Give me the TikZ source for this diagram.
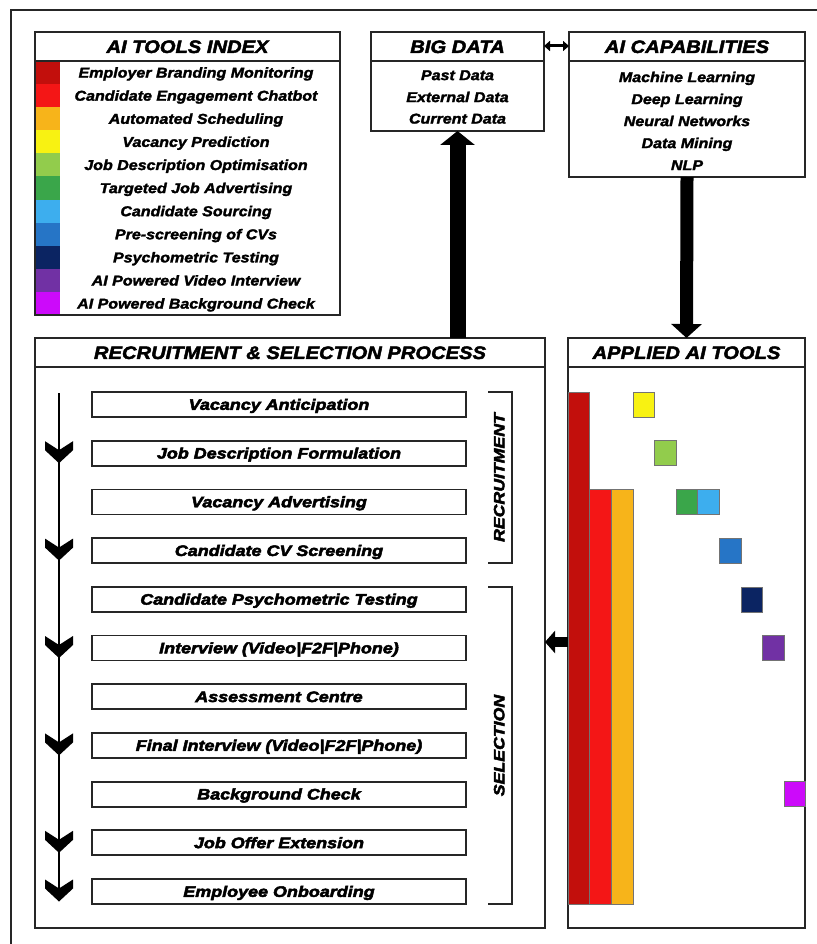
\documentclass[tikz,border=0pt]{standalone}
\usepackage{fontspec}
\setmainfont{Liberation Sans}
\newfontfamily\lab[FakeStretch=1.12,FakeBold=2]{Liberation Sans}
\newfontfamily\labh[FakeStretch=1.12,FakeBold=2.5]{Liberation Sans}
\newfontfamily\labw[FakeStretch=1.18,FakeBold=3.2]{Liberation Sans}
\usetikzlibrary{arrows.meta}
\definecolor{cA}{HTML}{C20F0C}
\definecolor{cB}{HTML}{F41616}
\definecolor{cC}{HTML}{F7B41A}
\definecolor{cD}{HTML}{F8F212}
\definecolor{cE}{HTML}{92CC4C}
\definecolor{cF}{HTML}{3AA64A}
\definecolor{cG}{HTML}{3DAEEE}
\definecolor{cH}{HTML}{2675C6}
\definecolor{cI}{HTML}{0B2462}
\definecolor{cJ}{HTML}{7131A4}
\definecolor{cK}{HTML}{CC0AFA}
\definecolor{edge}{HTML}{262626}
\begin{document}
\begin{tikzpicture}[x=1pt,y=-1pt,
  frame/.style={draw=edge,line width=1.8pt,inner sep=0pt,outer sep=0pt,anchor=north west},
  hdr/.style={frame,text height=12.9pt,text depth=0pt,font=\labh\bfseries\itshape\fontsize{18}{20}\selectfont},
  item/.style={inner sep=0pt,text height=10.2pt,text depth=0pt,font=\lab\bfseries\itshape\fontsize{14.3}{16}\selectfont},
  stepbox/.style={draw=edge,line width=1.8pt,inner sep=0pt,minimum width=374pt,minimum height=25pt,text height=10.7pt,text depth=0pt,font=\labw\bfseries\itshape\fontsize{15.2}{17}\selectfont},
  vlab/.style={rotate=90,inner sep=0pt,text height=10.7pt,text depth=0pt,font=\labw\bfseries\itshape\fontsize{15}{17}\selectfont},
  brk/.style={draw=edge,line width=1.6pt},
  bar/.style={draw=black!55,line width=0.6pt},
  fat/.style={draw=black,line width=#1},
]
\useasboundingbox (0,0) rectangle (816,944);
\fill[white] (0,0) rectangle (816,944);
% outer frame
\draw[edge,line width=2.2pt] (11,950) -- (11,10) -- (822,10);

% ---------- AI TOOLS INDEX ----------
\foreach \c [count=\i from 0] in {cA,cB,cC,cD,cE,cF,cG,cH,cI,cJ,cK}
  \fill[\c] (35,61+23.1*\i) rectangle (60,61+23.1*\i+23.1);
\node[frame,minimum width=305pt,minimum height=283pt] (idx) at (35,32) {};
\node[hdr,minimum width=305pt,minimum height=29pt] (idxh) at (35,32) {AI TOOLS INDEX};
\foreach \t [count=\i from 0] in {Employer Branding Monitoring,Candidate Engagement Chatbot,Automated Scheduling,Vacancy Prediction,Job Description Optimisation,Targeted Job Advertising,Candidate Sourcing,Pre-screening of CVs,Psychometric Testing,AI Powered Video Interview,AI Powered Background Check}
  \node[item] (it\i) at (196,72.5+23.1*\i) {\t};

% ---------- BIG DATA ----------
\node[frame,minimum width=173pt,minimum height=99pt] (bd) at (371,32) {};
\node[hdr,minimum width=173pt,minimum height=29pt] (bdh) at (371,32) {BIG DATA};
\node[item] (bd1) at (457.5,75) {Past Data};
\node[item] (bd2) at (457.5,97) {External Data};
\node[item] (bd3) at (457.5,118.5) {Current Data};

% ---------- AI CAPABILITIES ----------
\node[frame,minimum width=236pt,minimum height=145pt] (aic) at (569,32) {};
\node[hdr,minimum width=236pt,minimum height=29pt] (aich) at (569,32) {AI CAPABILITIES};
\foreach \t [count=\i from 0] in {Machine Learning,Deep Learning,Neural Networks,Data Mining,NLP}
  \node[item] (ac\i) at (687,77+22*\i) {\t};

% ---------- RECRUITMENT & SELECTION PROCESS ----------
\node[frame,minimum width=510pt,minimum height=590pt] (rec) at (35,338) {};
\node[hdr,minimum width=510pt,minimum height=29pt] (rech) at (35,338) {RECRUITMENT \& SELECTION PROCESS};
\foreach \t [count=\i from 0] in {Vacancy Anticipation,Job Description Formulation,Vacancy Advertising,Candidate CV Screening,Candidate Psychometric Testing,Interview (Video|F2F|Phone),Assessment Centre,Final Interview (Video|F2F|Phone),Background Check,Job Offer Extension,Employee Onboarding}
  \node[stepbox] (p\i) at (279,404.5+48.7*\i) {\t};

% process chain
\coordinate (ctop) at (59,393);
\coordinate (cbot) at (59,896);
\draw[black,line width=2.8pt] (ctop) -- (cbot);
\foreach \i in {1,3,5,7,9,10}
  \fill[black] (59,404.5+48.7*\i) +(-14,-12) -- +(0,-3) -- +(14,-12) -- +(14,-3) -- +(0,10) -- +(-14,-3) -- cycle;

% brackets
\draw[brk] (488,392) -- (512,392) -- (512,563) -- (488,563);
\node[vlab] (rlab) at (499,477.5) {RECRUITMENT};
\draw[brk] (488,587) -- (512,587) -- (512,904) -- (488,904);
\node[vlab] (slab) at (499,745.5) {SELECTION};

% ---------- APPLIED AI TOOLS ----------
\node[frame,minimum width=237pt,minimum height=590pt] (app) at (568,338) {};
\node[hdr,minimum width=237pt,minimum height=29pt] (apph) at (568,338) {APPLIED AI TOOLS};
\filldraw[bar,fill=cA] (568,392) rectangle (589.6,904);
\filldraw[bar,fill=cB] (589.6,489.4) rectangle (611.2,904);
\filldraw[bar,fill=cC] (611.2,489.4) rectangle (632.8,904);
\foreach \c/\col/\row in {cD/3/0,cE/4/1,cF/5/2,cG/6/2,cH/7/3,cI/8/4,cJ/9/5,cK/10/8}
  \filldraw[bar,fill=\c] (568+21.6*\col,392+48.7*\row) rectangle (589.6+21.6*\col,417+48.7*\row);

% ---------- connectors ----------
\draw[fat=3pt,{Triangle[width=10pt,length=6pt]}-{Triangle[width=10pt,length=6pt]}] (bd.east |- 0,46) -- (aic.west |- 0,46);
\draw[fat=16pt,-{Triangle[width=34pt,length=14pt]}] (bd.south |- rec.north) -- (bd.south);
\draw[fat=13pt,-{Triangle[width=30pt,length=14pt]}] (aic.south) -- (app.north);
\draw[fat=10pt,-{Triangle[width=22pt,length=10pt]}] (app.west |- 0,642) -- (rec.east |- 0,642);
\end{tikzpicture}
\end{document}
